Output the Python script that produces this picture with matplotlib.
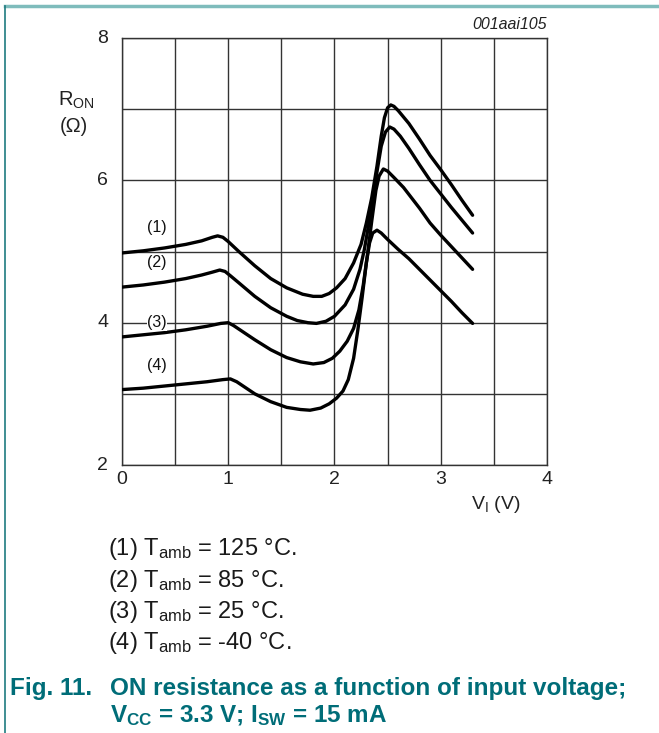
import matplotlib
matplotlib.use("Agg")
import matplotlib.pyplot as plt
from matplotlib.lines import Line2D

plt.rcParams['font.family'] = ['Liberation Sans', 'DejaVu Sans']

# curve data: V_I (V) -> R_ON (ohm)
v1 = [0, 0.2, 0.4, 0.6, 0.75, 0.85, 0.9, 0.95, 1.0, 1.1, 1.25, 1.4, 1.55, 1.7, 1.8, 1.88,
      1.95, 2.02, 2.1, 2.18, 2.25, 2.3, 2.35, 2.4, 2.44, 2.47, 2.5, 2.53, 2.56, 2.6, 2.7,
      2.8, 2.9, 3.0, 3.1, 3.2, 3.3]
r1 = [4.98, 5.01, 5.05, 5.10, 5.15, 5.20, 5.22, 5.20, 5.14, 5.00, 4.80, 4.62, 4.49, 4.40, 4.37, 4.37,
      4.41, 4.49, 4.62, 4.84, 5.10, 5.40, 5.75, 6.20, 6.62, 6.88, 7.02, 7.06, 7.04, 6.98, 6.80,
      6.58, 6.35, 6.15, 5.94, 5.72, 5.51]

v2 = [0, 0.2, 0.4, 0.6, 0.75, 0.85, 0.92, 0.97, 1.02, 1.1, 1.25, 1.4, 1.55, 1.65, 1.75, 1.83,
      1.92, 2.0, 2.1, 2.18, 2.24, 2.28, 2.32, 2.36, 2.4, 2.44, 2.48, 2.52, 2.56, 2.62, 2.7,
      2.8, 2.9, 3.0, 3.1, 3.2, 3.3]
r2 = [4.50, 4.53, 4.57, 4.62, 4.67, 4.71, 4.74, 4.72, 4.66, 4.56, 4.37, 4.21, 4.09, 4.03, 4.00, 3.99,
      4.02, 4.09, 4.25, 4.47, 4.75, 5.02, 5.36, 5.72, 6.12, 6.48, 6.68, 6.75, 6.72, 6.62, 6.45,
      6.22, 6.00, 5.81, 5.62, 5.44, 5.26]

v3 = [0, 0.2, 0.4, 0.6, 0.8, 0.93, 1.0, 1.05, 1.15, 1.25, 1.4, 1.55, 1.68, 1.8, 1.9, 1.98,
      2.05, 2.12, 2.18, 2.23, 2.27, 2.31, 2.35, 2.39, 2.42, 2.46, 2.5, 2.56, 2.65, 2.8, 2.9,
      3.0, 3.1, 3.2, 3.3]
r3 = [3.80, 3.83, 3.86, 3.90, 3.95, 3.99, 4.00, 3.96, 3.86, 3.76, 3.62, 3.51, 3.45, 3.42, 3.44, 3.50,
      3.60, 3.74, 3.92, 4.18, 4.52, 4.95, 5.42, 5.86, 6.06, 6.16, 6.13, 6.04, 5.90, 5.61, 5.40,
      5.23, 5.07, 4.91, 4.75]

v4 = [0, 0.2, 0.4, 0.6, 0.8, 0.95, 1.02, 1.08, 1.15, 1.25, 1.4, 1.55, 1.68, 1.77, 1.87, 1.95,
      2.02, 2.08, 2.13, 2.18, 2.22, 2.26, 2.3, 2.33, 2.36, 2.4, 2.44, 2.5, 2.6, 2.7, 2.8,
      2.9, 3.0, 3.1, 3.2, 3.3]
r4 = [3.06, 3.08, 3.11, 3.14, 3.17, 3.20, 3.21, 3.17, 3.10, 3.00, 2.89, 2.81, 2.78, 2.77, 2.80, 2.86,
      2.94, 3.04, 3.20, 3.50, 3.90, 4.35, 4.84, 5.12, 5.26, 5.30, 5.26, 5.17, 5.03, 4.90, 4.75,
      4.60, 4.45, 4.30, 4.14, 3.99]

curve_tags = ['(1)', '(2)', '(3)', '(4)']
tag_pos = [(0.33, 5.23), (0.33, 4.74), (0.33, 4.0), (0.33, 3.29)]
temps = ['125', '85', '25', '-40']

x_ticks = [0, 1, 2, 3, 4]
y_ticks = [2, 4, 6, 8]

teal = '#006d78'

fig = plt.figure(figsize=(6.59, 7.33), dpi=100)
ax = fig.add_axes([0.1851, 0.3656, 0.6449, 0.5825])

ax.set_xlim(0, 4)
ax.set_ylim(2, 8)
ax.set_xticks([i * 0.5 for i in range(9)])
ax.set_yticks(range(2, 9))
ax.grid(True, color='#333333', lw=1.0)
ax.tick_params(length=0, labelbottom=False, labelleft=False)
for s in ax.spines.values():
    s.set_color('#333333')
    s.set_linewidth(1.0)

for v, r in [(v1, r1), (v2, r2), (v3, r3), (v4, r4)]:
    ax.plot(v, r, color='black', lw=2.4, solid_capstyle='round',
            solid_joinstyle='round', zorder=3)

for tag, (x, y) in zip(curve_tags, tag_pos):
    ax.text(x, y, tag, fontsize=11.5, ha='center', va='bottom' if tag != '(3)' else 'center',
            color='#111111', zorder=4,
            bbox=dict(fc='white', ec='none', pad=0.5) if tag == '(3)' else None)

# tick labels drawn as text to place them like the datasheet
for t in x_ticks:
    ax.text(t, 1.92, str(t), fontsize=14, ha='center', va='top', color='#222222')
for t in y_ticks:
    ax.text(-0.13, t, str(t), fontsize=14, ha='right', va='center', color='#222222')

ax.text(-0.43, 7.12, r'$\mathregular{R_{ON}}$', fontsize=14.5, ha='center', va='center', color='#222222')
ax.text(-0.45, 6.76, '(Ω)', fontsize=14.5, ha='center', va='center', color='#222222')
ax.text(3.52, 1.45, r'$\mathregular{V_{I}}$ (V)', fontsize=14, ha='center', va='center', color='#222222')
ax.text(4.0, 8.08, '001aai105', fontsize=11.5, style='italic', ha='right', va='bottom', color='#222222')

# notes under the graph
for i, (tag, tmp) in enumerate(zip(curve_tags, temps)):
    fig.text(108 / 659, 1 - (549 + 31.5 * i) / 733,
             tag + r' $\mathregular{T_{amb}}$ = ' + tmp + ' °C.',
             fontsize=17, ha='left', va='center', color='#1a1a1a')

fig.text(10 / 659, 1 - 689 / 733, 'Fig. 11.', fontsize=17.5, weight='bold', color=teal,
         ha='left', va='center')
fig.text(110 / 659, 1 - 689 / 733, 'ON resistance as a function of input voltage;',
         fontsize=17.5, weight='bold', color=teal, ha='left', va='center')
fig.text(110 / 659, 1 - 716 / 733, r'$\mathregular{V_{CC}}$ = 3.3 V; $\mathregular{I_{SW}}$ = 15 mA',
         fontsize=17.5, weight='bold', color=teal, ha='left', va='center')

# page frame lines
fig.add_artist(Line2D([5 / 659, 1], [1 - 6 / 733, 1 - 6 / 733], color='#7fbcbc', lw=2.5))
fig.add_artist(Line2D([5 / 659, 5 / 659], [0, 1 - 6 / 733], color='#1f7b80', lw=1.2))

fig.savefig('out.png', dpi=100)
